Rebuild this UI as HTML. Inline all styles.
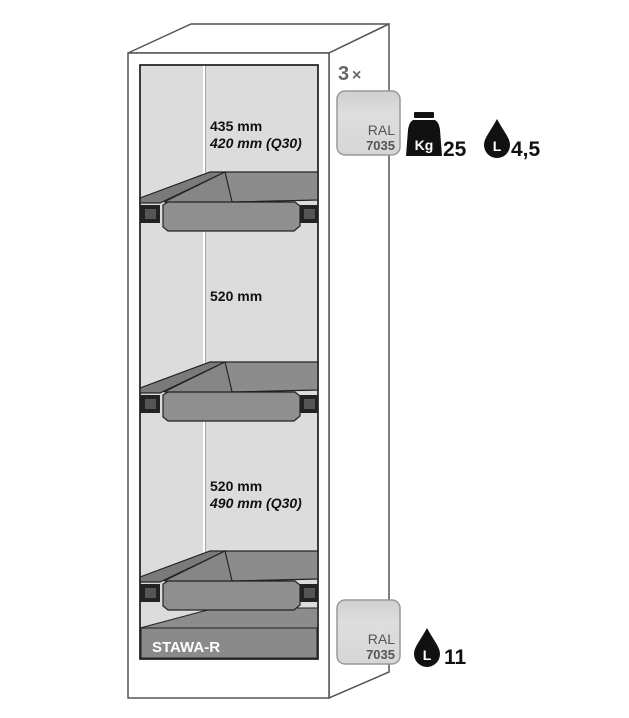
<!DOCTYPE html>
<html><head><style>body{margin:0;background:#fff}svg{display:block}</style></head><body>
<svg width="629" height="718" viewBox="0 0 629 718" xmlns="http://www.w3.org/2000/svg" font-family="Liberation Sans, sans-serif">
<defs>
<linearGradient id="g" x1="0" y1="0" x2="0" y2="1"><stop offset="0" stop-color="#cfcfcf"/><stop offset="0.35" stop-color="#dedede"/><stop offset="1" stop-color="#d6d6d6"/></linearGradient>
<g id="drawer">
<polygon points="140,203 140,198 210,172 225,172 160,203" fill="#7a7a7a" stroke="#222" stroke-width="1.2"/>
<polygon points="225,172 318,172 318,200 232,202" fill="#8c8c8c" stroke="#222" stroke-width="1.2"/>
<polygon points="164,202 225,172 232,202" fill="#868686" stroke="#222" stroke-width="1"/>
<rect x="140" y="205" width="20" height="18" fill="#222"/>
<rect x="145" y="209" width="11" height="10" fill="#555"/>
<rect x="300" y="205" width="18" height="18" fill="#222"/>
<rect x="304" y="209" width="11" height="10" fill="#555"/>
<polygon points="163,205 168,202 295,202 300,206 300,226 294,231 168,231 163,227" fill="#8f8f8f" stroke="#222" stroke-width="1.2"/>
</g>
</defs>
<polygon points="128,53 191,24 389,24 329,53" fill="#fff" stroke="#555" stroke-width="1.5"/>
<polygon points="329,53 389,24 389,672 329,698" fill="#fff" stroke="#555" stroke-width="1.5"/>
<rect x="128" y="53" width="201" height="645" fill="#fff" stroke="#555" stroke-width="1.5"/>
<rect x="140" y="65" width="178" height="594" fill="#dcdcdc" stroke="#222" stroke-width="1.5"/>
<line x1="204" y1="65" x2="204" y2="610" stroke="#fff" stroke-width="2"/>
<line x1="205.5" y1="65" x2="205.5" y2="610" stroke="#999" stroke-width="0.8"/>
<use href="#drawer"/>
<use href="#drawer" transform="translate(0,190)"/>
<polygon points="140,628 215,608 318,608 318,628" fill="#8c8c8c" stroke="#222" stroke-width="1"/>
<rect x="141" y="628" width="176" height="30" fill="#8a8a8a" stroke="#222" stroke-width="1"/>
<text x="152" y="652" font-size="15" font-weight="bold" fill="#fff">STAWA-R</text>
<use href="#drawer" transform="translate(0,379)"/>
<rect x="140" y="65" width="178" height="594" fill="none" stroke="#222" stroke-width="1.5"/>
<g font-size="14" font-weight="bold" fill="#111">
<text x="210" y="131">435 mm</text>
<text x="210" y="148" font-style="italic">420 mm (Q30)</text>
<text x="210" y="301">520 mm</text>
<text x="210" y="491">520 mm</text>
<text x="210" y="508" font-style="italic">490 mm (Q30)</text>
</g>
<text x="338" y="80" font-size="20" font-weight="bold" fill="#666">3</text>
<text x="352" y="80" font-size="16" font-weight="bold" fill="#666">×</text>
<g>
<rect x="337" y="91" width="63" height="64" rx="8" fill="url(#g)" stroke="#999" stroke-width="1.5"/>
<text x="395" y="135" font-size="14" fill="#555" text-anchor="end">RAL</text>
<text x="395" y="150" font-size="13" font-weight="bold" fill="#555" text-anchor="end">7035</text>
<rect x="337" y="600" width="63" height="64" rx="8" fill="url(#g)" stroke="#999" stroke-width="1.5"/>
<text x="395" y="644" font-size="14" fill="#555" text-anchor="end">RAL</text>
<text x="395" y="659" font-size="13" font-weight="bold" fill="#555" text-anchor="end">7035</text>
</g>
<rect x="414" y="112" width="20" height="6" rx="1" fill="#111"/>
<path d="M413,120 L435,120 Q439,122 440,130 L442,156 L406,156 L408,130 Q409,122 413,120 Z" fill="#111"/>
<text x="424" y="150" font-size="14" font-weight="bold" fill="#fff" text-anchor="middle">Kg</text>
<text x="443" y="156" font-size="21" font-weight="bold" fill="#111">25</text>
<path d="M497,119 C490,132 484,138 484,145 A13,13 0 0 0 510,145 C510,138 504,132 497,119 Z" fill="#111"/>
<text x="497" y="151" font-size="14" font-weight="bold" fill="#fff" text-anchor="middle">L</text>
<text x="511" y="156" font-size="21" font-weight="bold" fill="#111">4,5</text>
<path d="M427,628 C420,641 414,647 414,654 A13,13 0 0 0 440,654 C440,647 434,641 427,628 Z" fill="#111"/>
<text x="427" y="660" font-size="14" font-weight="bold" fill="#fff" text-anchor="middle">L</text>
<text x="444" y="664" font-size="21" font-weight="bold" fill="#111">11</text>
</svg>
</body></html>
